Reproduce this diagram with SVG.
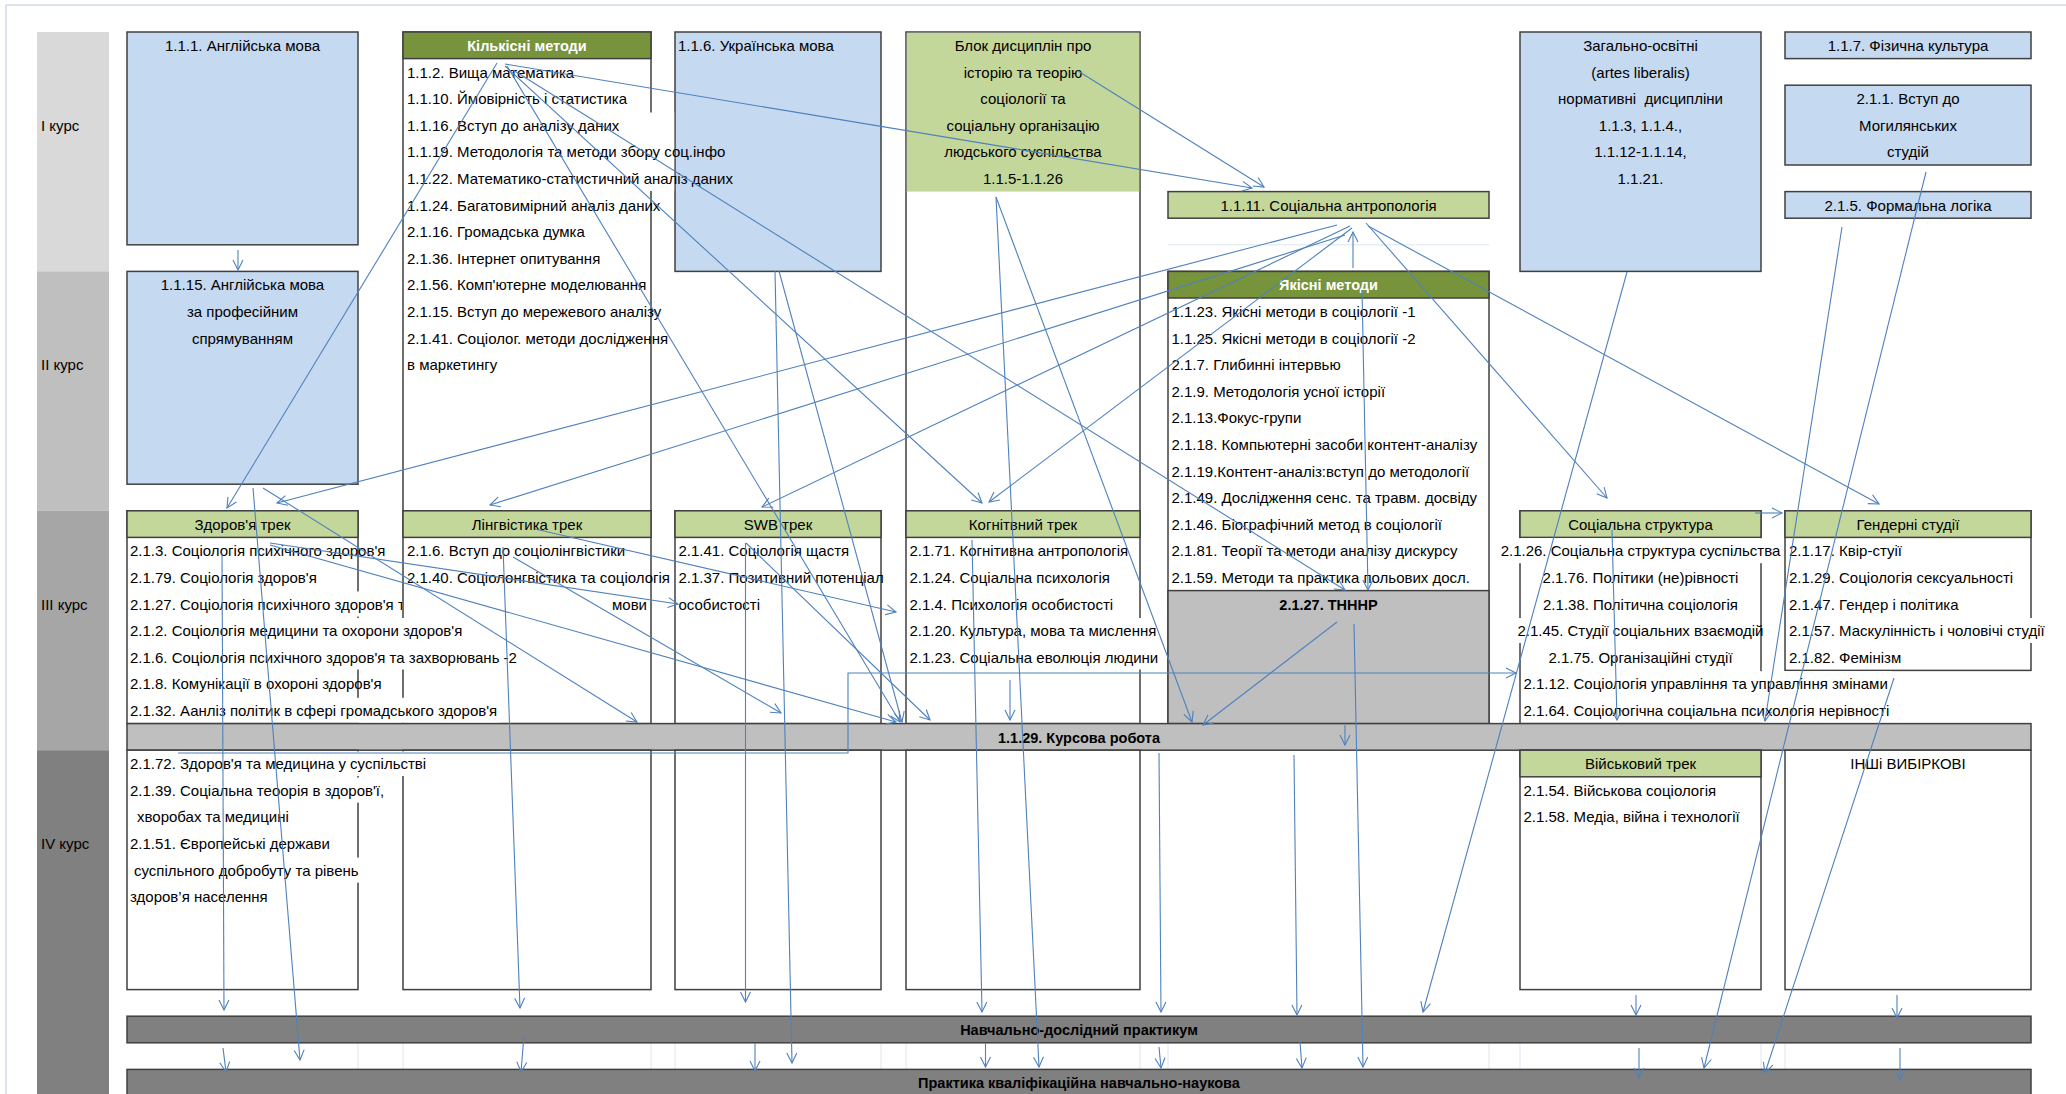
<svg xmlns="http://www.w3.org/2000/svg" width="2066" height="1094" viewBox="0 0 2066 1094">
<defs>
<style>
.t{font-family:"Liberation Sans",Arial,sans-serif;font-size:15px;fill:#000}
.c{text-anchor:middle}
.e{text-anchor:end}
.b{font-weight:bold;font-size:14.5px}
.w{fill:#fff}
.blue{fill:#c5d9f1;stroke:#404040;stroke-width:1.5}
.box{fill:#fff;stroke:#404040;stroke-width:1.5}
.lg{fill:#c4d79b;stroke:#404040;stroke-width:1.5}
.dg{fill:#77933c;stroke:#404040;stroke-width:1.5}
.gr{fill:#bfbfbf;stroke:#404040;stroke-width:1.5}
.dk{fill:#808080;stroke:#404040;stroke-width:1.5}
.wh{fill:#fff}
.grid{stroke:#dce6f1;stroke-width:1}
#connectors line,#connectors path{stroke:#4f81bd;stroke-width:1.1;fill:none;marker-end:url(#arr)}
</style>
<marker id="arr" markerUnits="userSpaceOnUse" markerWidth="12" markerHeight="12" refX="10" refY="5" orient="auto" overflow="visible">
<path d="M0,0 L10,5 L0,10" fill="none" stroke="#4f81bd" stroke-width="1.1"/>
</marker>
<clipPath id="clip21"><rect x="127" y="590" width="275" height="27"/></clipPath>
</defs>
<rect x="0" y="0" width="2066" height="1094" fill="#fff"/>
<line x1="6" y1="5" x2="2066" y2="5" stroke="#d0d8e4" stroke-width="1.5"/>
<line x1="6" y1="5" x2="6" y2="1094" stroke="#d0d8e4" stroke-width="1.5"/>

<g id="course-labels">
<rect x="37" y="32" width="72" height="239.4" fill="#d9d9d9"/>
<rect x="37" y="271.4" width="72" height="239.4" fill="#bfbfbf"/>
<rect x="37" y="510.8" width="72" height="239.4" fill="#a6a6a6"/>
<rect x="37" y="750.2" width="72" height="343.8" fill="#808080"/>
<text class="t" x="41" y="130.8">I курс</text>
<text class="t" x="41" y="370.2">II курс</text>
<text class="t" x="41" y="609.6">III курс</text>
<text class="t" x="41" y="849">IV курс</text>
</g>

<g id="grid">
<line class="grid" x1="1168" y1="244.8" x2="1489" y2="244.8"/>
<line class="grid" x1="358" y1="1043" x2="358" y2="1069"/>
<line class="grid" x1="403" y1="1043" x2="403" y2="1069"/>
<line class="grid" x1="651" y1="1043" x2="651" y2="1069"/>
<line class="grid" x1="675" y1="1043" x2="675" y2="1069"/>
<line class="grid" x1="881" y1="1043" x2="881" y2="1069"/>
<line class="grid" x1="906" y1="1043" x2="906" y2="1069"/>
<line class="grid" x1="1140" y1="1043" x2="1140" y2="1069"/>
<line class="grid" x1="1168" y1="1043" x2="1168" y2="1069"/>
<line class="grid" x1="1489" y1="1043" x2="1489" y2="1069"/>
<line class="grid" x1="1520" y1="1043" x2="1520" y2="1069"/>
<line class="grid" x1="1761" y1="1043" x2="1761" y2="1069"/>
<line class="grid" x1="1785" y1="1043" x2="1785" y2="1069"/>
</g>

<g id="n-1-1-1">
<rect class="blue" x="127" y="32" width="231" height="212.8"/>
<text class="t c" x="242.5" y="51">1.1.1. Англійська мова</text>
</g>
<g id="n-1-1-15">
<rect class="blue" x="127" y="271.4" width="231" height="212.8"/>
<text class="t c" x="242.5" y="290.4">1.1.15. Англійська мова</text>
<text class="t c" x="242.5" y="317">за професійним</text>
<text class="t c" x="242.5" y="343.6">спрямуванням</text>
</g>

<g id="n-1-1-6">
<rect class="blue" x="675" y="32" width="206" height="239.4"/>
<text class="t" x="678" y="51">1.1.6. Українська мова</text>
</g>

<g id="n-kilkisni">
<rect class="box" x="403" y="32" width="248" height="478.8"/>
<rect class="dg" x="403" y="32" width="248" height="26.6"/>
<rect class="wh" x="650" y="112.5" width="24.2" height="78.5"/>
<text class="t c b w" x="527" y="51">Кількісні методи</text>
<text class="t" x="407" y="77.6">1.1.2. Вища математика</text>
<text class="t" x="407" y="104.2">1.1.10. Ймовірність і статистика</text>
<text class="t" x="407" y="130.8">1.1.16. Вступ до аналізу даних</text>
<text class="t" x="407" y="157.4">1.1.19. Методологія та методи збору соц.інфо</text>
<text class="t" x="407" y="184">1.1.22. Математико-статистичний аналіз даних</text>
<text class="t" x="407" y="210.6">1.1.24. Багатовимірний аналіз даних</text>
<text class="t" x="407" y="237.2">2.1.16. Громадська думка</text>
<text class="t" x="407" y="263.8">2.1.36. Інтернет опитування</text>
<text class="t" x="407" y="290.4">2.1.56. Комп'ютерне моделювання</text>
<text class="t" x="407" y="317">2.1.15. Вступ до мережевого аналізу</text>
<text class="t" x="407" y="343.6">2.1.41. Соціолог. методи дослідження</text>
<text class="t" x="407" y="370.2">в маркетингу</text>
</g>

<g id="n-blok">
<rect class="box" x="906" y="32" width="234" height="478.8"/>
<rect fill="#c4d79b" x="906.8" y="32.8" width="232.4" height="158.8"/>
<text class="t c" x="1023" y="51">Блок дисциплін про</text>
<text class="t c" x="1023" y="77.6">історію та теорію</text>
<text class="t c" x="1023" y="104.2">соціології та</text>
<text class="t c" x="1023" y="130.8">соціальну організацію</text>
<text class="t c" x="1023" y="157.4">людського суспільства</text>
<text class="t c" x="1023" y="184">1.1.5-1.1.26</text>
</g>

<g id="n-1-1-11">
<rect class="lg" x="1168" y="191.6" width="321" height="26.6"/>
<text class="t c" x="1328.5" y="210.6">1.1.11. Соціальна антропологія</text>
</g>

<g id="n-yakisni">
<rect class="box" x="1168" y="271.4" width="321" height="452.2"/>
<rect class="dg" x="1168" y="271.4" width="321" height="26.6"/>
<rect class="gr" x="1168" y="590.6" width="321" height="133"/>
<text class="t c b w" x="1328.5" y="290.4">Якісні методи</text>
<text class="t" x="1171.5" y="317">1.1.23. Якісні методи в соціології -1</text>
<text class="t" x="1171.5" y="343.6">1.1.25. Якісні методи в соціології -2</text>
<text class="t" x="1171.5" y="370.2">2.1.7. Глибинні інтервью</text>
<text class="t" x="1171.5" y="396.8">2.1.9. Методологія усної історії</text>
<text class="t" x="1171.5" y="423.4">2.1.13.Фокус-групи</text>
<text class="t" x="1171.5" y="450">2.1.18. Компьютерні засоби контент-аналізу</text>
<text class="t" x="1171.5" y="476.6">2.1.19.Контент-аналіз:вступ до методології</text>
<text class="t" x="1171.5" y="503.2">2.1.49. Дослідження сенс. та травм. досвіду</text>
<text class="t" x="1171.5" y="529.8">2.1.46. Біографічний метод в соціології</text>
<text class="t" x="1171.5" y="556.4">2.1.81. Теорії та методи аналізу дискурсу</text>
<text class="t" x="1171.5" y="583">2.1.59. Методи та практика польових досл.</text>
<text class="t c b" x="1328.5" y="609.6">2.1.27. ТНННР</text>
</g>

<g id="n-zagalno">
<rect class="blue" x="1520" y="32" width="241" height="239.4"/>
<text class="t c" x="1640.5" y="51">Загально-освітні</text>
<text class="t c" x="1640.5" y="77.6">(artes liberalis)</text>
<text class="t c" x="1640.5" y="104.2" xml:space="preserve">нормативні  дисципліни</text>
<text class="t c" x="1640.5" y="130.8">1.1.3, 1.1.4.,</text>
<text class="t c" x="1640.5" y="157.4">1.1.12-1.1.14,</text>
<text class="t c" x="1640.5" y="184">1.1.21.</text>
</g>

<g id="n-1-1-7">
<rect class="blue" x="1785" y="32" width="246" height="26.6"/>
<text class="t c" x="1908" y="51">1.1.7. Фізична культура</text>
</g>
<g id="n-2-1-1">
<rect class="blue" x="1785" y="85.2" width="246" height="79.8"/>
<text class="t c" x="1908" y="104.2">2.1.1. Вступ до</text>
<text class="t c" x="1908" y="130.8">Могилянських</text>
<text class="t c" x="1908" y="157.4">студій</text>
</g>
<g id="n-2-1-5">
<rect class="blue" x="1785" y="191.6" width="246" height="26.6"/>
<text class="t c" x="1908" y="210.6">2.1.5. Формальна логіка</text>
</g>

<g id="n-health">
<rect class="box" x="127" y="510.8" width="231" height="212.8"/>
<rect class="lg" x="127" y="510.8" width="231" height="26.6"/>
<text class="t c" x="242.5" y="529.8">Здоров'я трек</text>
<text class="t" x="130" y="556.4">2.1.3. Соціологія психічного здоров'я</text>
<text class="t" x="130" y="583">2.1.79. Соціологія здоров'я</text>
</g>

<g id="n-ling">
<rect class="box" x="403" y="510.8" width="248" height="212.8"/>
<rect class="lg" x="403" y="510.8" width="248" height="26.6"/>
<text class="t c" x="527" y="529.8">Лінгвістика трек</text>
<text class="t" x="407" y="556.4">2.1.6. Вступ до соціолінгвістики</text>
<text class="t" x="407" y="583">2.1.40. Соціолонгвістика та соціологія</text>
<text class="t e" x="647" y="609.6">мови</text>
</g>

<g id="n-health-overflow">
<rect class="wh" x="357" y="591.5" width="45" height="25"/>
<rect class="wh" x="357" y="618" width="168" height="51.5"/>
<rect class="wh" x="357" y="697.8" width="143" height="25"/>
<text class="t" x="130" y="609.6" clip-path="url(#clip21)">2.1.27. Соціологія психічного здоров'я т</text>
<text class="t" x="130" y="636.2">2.1.2. Соціологія медицини та охорони здоров'я</text>
<text class="t" x="130" y="662.8">2.1.6. Соціологія психічного здоров'я та захворювань -2</text>
<text class="t" x="130" y="689.4">2.1.8. Комунікації в охороні здоров'я</text>
<text class="t" x="130" y="716">2.1.32. Аанліз політик в сфері громадського здоров'я</text>
</g>

<g id="n-swb">
<rect class="box" x="675" y="510.8" width="206" height="212.8"/>
<rect class="lg" x="675" y="510.8" width="206" height="26.6"/>
<text class="t c" x="778" y="529.8">SWB трек</text>
<text class="t" x="678.5" y="556.4">2.1.41. Соціологія щастя</text>
<text class="t" x="678.5" y="583">2.1.37. Позитивний потенціал</text>
<text class="t" x="678.5" y="609.6">особистості</text>
</g>

<g id="n-cogn">
<rect class="box" x="906" y="510.8" width="234" height="212.8"/>
<rect class="lg" x="906" y="510.8" width="234" height="26.6"/>
<rect class="wh" x="1139" y="618" width="22" height="51.5"/>
<text class="t c" x="1023" y="529.8">Когнітвний трек</text>
<text class="t" x="909.5" y="556.4">2.1.71. Когнітивна антропологія</text>
<text class="t" x="909.5" y="583">2.1.24. Соціальна психологія</text>
<text class="t" x="909.5" y="609.6">2.1.4. Психологія особистості</text>
<text class="t" x="909.5" y="636.2">2.1.20. Культура, мова та мислення</text>
<text class="t" x="909.5" y="662.8">2.1.23. Соціальна еволюція людини</text>
</g>

<g id="n-gender">
<rect class="box" x="1785" y="510.8" width="246" height="159.6"/>
<rect class="lg" x="1785" y="510.8" width="246" height="26.6"/>
<rect class="wh" x="2029" y="618" width="16" height="25"/>
<text class="t c" x="1908" y="529.8">Гендерні студії</text>
<text class="t" x="1789" y="556.4">2.1.17. Квір-стуії</text>
<text class="t" x="1789" y="583">2.1.29. Соціологія сексуальності</text>
<text class="t" x="1789" y="609.6">2.1.47. Гендер і політика</text>
<text class="t" x="1789" y="636.2">2.1.57. Маскулінність і чоловічі студії</text>
<text class="t" x="1789" y="662.8">2.1.82. Фемінізм</text>
</g>

<g id="n-socstr">
<rect class="box" x="1520" y="510.8" width="241" height="212.8"/>
<rect class="lg" x="1520" y="510.8" width="241" height="26.6"/>
<rect class="wh" x="1502" y="538.2" width="277" height="25"/>
<rect class="wh" x="1516" y="618" width="8" height="25"/>
<rect class="wh" x="1760" y="671.2" width="132" height="51.6"/>
<text class="t c" x="1640.5" y="529.8">Соціальна структура</text>
<text class="t c" x="1640.5" y="556.4">2.1.26. Соціальна структура суспільства</text>
<text class="t c" x="1640.5" y="583">2.1.76. Політики (не)рівності</text>
<text class="t c" x="1640.5" y="609.6">2.1.38. Політична соціологія</text>
<text class="t c" x="1640.5" y="636.2">2.1.45. Студії соціальних взаємодій</text>
<text class="t c" x="1640.5" y="662.8">2.1.75. Організаційні студії</text>
<text class="t" x="1523.5" y="689.4">2.1.12. Соціологія управління та управління змінами</text>
<text class="t" x="1523.5" y="716">2.1.64. Соціологічна соціальна психологія нерівності</text>
</g>

<g id="n-kursova">
<rect class="gr" x="127" y="723.6" width="1904" height="26.6"/>
<text class="t c b" x="1079" y="742.6">1.1.29. Курсова робота</text>
</g>

<g id="n-health4">
<rect class="box" x="127" y="750.2" width="231" height="239.4"/>
</g>
<g id="n-ling4">
<rect class="box" x="403" y="750.2" width="248" height="239.4"/>
</g>
<g id="n-health4-text">
<rect class="wh" x="357" y="751.5" width="70" height="24.5"/>
<rect class="wh" x="357" y="777.6" width="32" height="25"/>
<rect class="wh" x="357" y="857.6" width="6" height="25"/>
<text class="t" x="130" y="769.2">2.1.72. Здоров'я та медицина у суспільстві</text>
<text class="t" x="130" y="795.8">2.1.39. Соціальна теоорія в здоров'ї,</text>
<text class="t" x="137" y="822.4">хворобах та медицині</text>
<text class="t" x="130" y="849">2.1.51. Європейські держави</text>
<text class="t" x="134" y="875.6">суспільного добробуту та рівень</text>
<text class="t" x="130" y="902.2">здоров’я населення</text>
</g>
<g id="n-swb4">
<rect class="box" x="675" y="750.2" width="206" height="239.4"/>
</g>
<g id="n-cogn4">
<rect class="box" x="906" y="750.2" width="234" height="239.4"/>
</g>
<g id="n-military">
<rect class="box" x="1520" y="750.2" width="241" height="239.4"/>
<rect class="lg" x="1520" y="750.2" width="241" height="26.6"/>
<text class="t c" x="1640.5" y="769.2">Військовий трек</text>
<text class="t" x="1523.5" y="795.8">2.1.54. Військова соціологія</text>
<text class="t" x="1523.5" y="822.4">2.1.58. Медіа, війна і технології</text>
</g>
<g id="n-other">
<rect class="box" x="1785" y="750.2" width="246" height="239.4"/>
<text class="t c" x="1908" y="769.2">ІНШі ВИБІРКОВІ</text>
</g>

<g id="n-praktykum">
<rect class="dk" x="127" y="1016.2" width="1904" height="26.6"/>
<text class="t c b" x="1079" y="1035.2" fill="#1a1a1a">Навчально-дослідний практикум</text>
</g>
<g id="n-praktyka">
<rect class="dk" x="127" y="1069.4" width="1904" height="40"/>
<text class="t c b" x="1079" y="1088.4" fill="#1a1a1a">Практика кваліфікаційна навчально-наукова</text>
</g>

<g id="connectors">
<line x1="238" y1="250" x2="238" y2="270"/>
<line x1="497" y1="63" x2="227" y2="508"/>
<line x1="505" y1="64" x2="1252" y2="188"/>
<line x1="1078" y1="71" x2="1264" y2="187"/>
<line x1="507" y1="66" x2="900" y2="722"/>
<line x1="505" y1="66" x2="982" y2="503"/>
<line x1="513" y1="70" x2="1345" y2="590"/>
<line x1="1337" y1="225" x2="277" y2="503"/>
<line x1="1345" y1="235" x2="490" y2="505"/>
<line x1="1350" y1="226" x2="762" y2="507"/>
<line x1="1352" y1="228" x2="989" y2="502"/>
<line x1="1353" y1="268" x2="1353" y2="232"/>
<line x1="1366" y1="223" x2="1607" y2="498"/>
<line x1="1368" y1="226" x2="1879" y2="504"/>
<line x1="996" y1="197" x2="1192" y2="722"/>
<line x1="996" y1="197" x2="1039" y2="1067"/>
<line x1="1362" y1="290" x2="1368" y2="590"/>
<line x1="1337" y1="622" x2="1203" y2="725"/>
<line x1="1354" y1="624" x2="1363" y2="1067"/>
<path d="M178,753 H848 V673 H1516"/>
<line x1="1842" y1="227" x2="1765" y2="721"/>
<line x1="1926" y1="172" x2="1704" y2="1068"/>
<line x1="1894" y1="678" x2="1765" y2="1073"/>
<line x1="1627" y1="272" x2="1423" y2="1012"/>
<line x1="1159" y1="753" x2="1161" y2="1012"/>
<line x1="1294" y1="755" x2="1297" y2="1015"/>
<line x1="503" y1="547" x2="520" y2="1008"/>
<line x1="524" y1="1035" x2="521" y2="1072"/>
<line x1="745.5" y1="543" x2="745.5" y2="1002"/>
<line x1="755" y1="1043" x2="755" y2="1071"/>
<line x1="775" y1="271" x2="792" y2="1063"/>
<line x1="513" y1="557" x2="781" y2="713"/>
<line x1="779" y1="271" x2="902" y2="722"/>
<line x1="972" y1="540" x2="982" y2="1012"/>
<line x1="985.5" y1="1043" x2="985.5" y2="1067"/>
<line x1="1010" y1="680" x2="1010" y2="720"/>
<line x1="253" y1="488" x2="300" y2="1060"/>
<line x1="263" y1="488" x2="637" y2="722"/>
<line x1="270" y1="545" x2="896" y2="722"/>
<line x1="270" y1="543" x2="678" y2="604"/>
<line x1="535" y1="529" x2="896" y2="612"/>
<line x1="746" y1="543" x2="930" y2="720"/>
<line x1="222" y1="553" x2="224" y2="1010"/>
<line x1="223" y1="1048" x2="226" y2="1072"/>
<line x1="1755" y1="513" x2="1782" y2="513"/>
<line x1="1612" y1="530" x2="1617" y2="720"/>
<line x1="1636" y1="995" x2="1636" y2="1015"/>
<line x1="1639" y1="1048" x2="1639" y2="1078"/>
<line x1="1897" y1="995" x2="1897" y2="1018"/>
<line x1="1900" y1="1048" x2="1900" y2="1080"/>
<line x1="1159" y1="1047" x2="1161" y2="1068"/>
<line x1="1300" y1="1042" x2="1302" y2="1068"/>
<line x1="1345" y1="725" x2="1345" y2="745"/>
</g>
</svg>
